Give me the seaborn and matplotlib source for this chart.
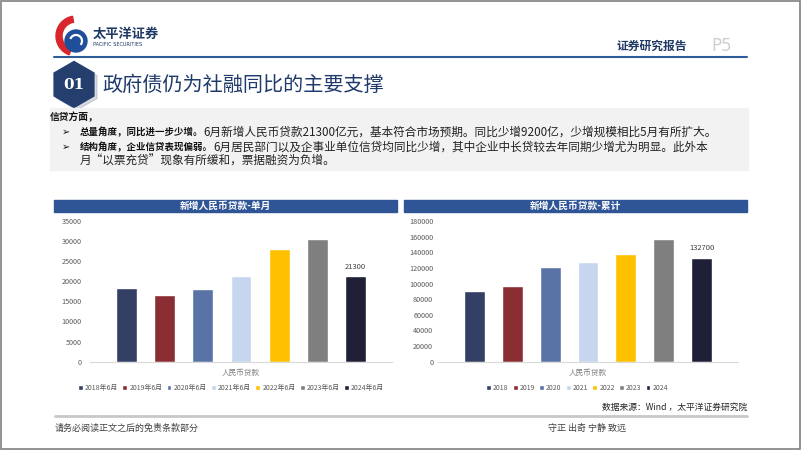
import matplotlib
matplotlib.use("Agg")
import matplotlib.pyplot as plt
from matplotlib.patches import Rectangle, RegularPolygon, Wedge, Circle, Arc
import seaborn as sns
import pandas as pd

# data
years_month = ["2018年6月", "2019年6月", "2020年6月", "2021年6月", "2022年6月", "2023年6月", "2024年6月"]
monthly = [18400, 16600, 18100, 21200, 28100, 30500, 21300]
years = ["2018", "2019", "2020", "2021", "2022", "2023", "2024"]
cumulative = [90300, 96700, 120900, 127600, 137300, 157200, 132700]
category = "人民币贷款"
palette = ["#333F64", "#8B2E33", "#5A73A6", "#C5D6EE", "#FFC000", "#7F7F7F", "#1F2038"]

sns.set_theme(style="white")
plt.rcParams["font.family"] = ["Noto Sans CJK SC", "DejaVu Sans"]

W, H = 802, 451
fig = plt.figure(figsize=(W / 100, H / 100), dpi=100)
fig.patch.set_facecolor("white")

# background axes in pixel units, y pointing down
bg = fig.add_axes([0, 0, 1, 1])
bg.set_xlim(0, W)
bg.set_ylim(H, 0)
bg.axis("off")

navy = "#1F3864"
bg.add_patch(Rectangle((1, 1), 799, 448, fill=False, ec="#808080", lw=1.2))

# logo
bg.add_patch(Wedge((76, 36), 20, 110, 260, width=6, color="#D9262C"))
bg.add_patch(Circle((76, 41), 11, color="#1F4E9A"))
bg.add_patch(Arc((76, 41), 12, 12, theta1=200, theta2=40, color="white", lw=1.6))
bg.text(93, 34, "太平洋证券", fontsize=9.5, fontweight="bold", color=navy, va="center")
bg.text(93, 44, "PACIFIC SECURITIES", fontsize=3.6, color=navy, va="center",
        family="DejaVu Sans")
bg.text(687, 46, "证券研究报告", fontsize=8.5, fontweight="bold", color=navy,
        ha="right", va="center")
bg.text(711, 46, "P5", fontsize=12, color="#D0D0D0", va="center", family="DejaVu Sans")
bg.plot([54, 747], [57, 57], color="#2E5C9A", lw=1.5)

# section title
bg.add_patch(RegularPolygon((77, 87), 6, radius=23, color="#9AA3B5", alpha=0.4))
bg.add_patch(RegularPolygon((74, 84.5), 6, radius=23, color="#243F6E"))
bg.text(74, 85, "01", fontsize=11, fontweight="bold", color="white", ha="center",
        va="center", family="DejaVu Serif")
bg.text(102, 85, "政府债仍为社融同比的主要支撑", fontsize=14.5, color="#1F3A6B", va="center")

# text box
bg.add_patch(Rectangle((50, 108), 698, 62, color="#F2F2F2"))
bg.text(50, 117, "信贷方面，", fontsize=7, fontweight="bold", color="#111111", va="center")
renderer = fig.canvas.get_renderer()


def mixed_line(y, bold, regular, bullet=True):
    if bullet:
        bg.text(62, y, "➢", fontsize=7, color="#111111", va="center", family="DejaVu Sans")
    x = 80
    if bold:
        t = bg.text(x, y, bold, fontsize=6.8, fontweight="bold", color="#111111", va="center")
        x = t.get_window_extent(renderer=renderer).x1
    bg.text(x, y, regular, fontsize=8.4, color="#222222", va="center")


mixed_line(132, "总量角度，同比进一步少增。",
           "6月新增人民币贷款21300亿元，基本符合市场预期。同比少增9200亿，少增规模相比5月有所扩大。")
mixed_line(147, "结构角度，企业信贷表现偏弱。",
           "6月居民部门以及企事业单位信贷均同比少增，其中企业中长贷较去年同期少增尤为明显。此外本")
mixed_line(161, "", "月“以票充贷”现象有所缓和，票据融资为负增。", bullet=False)

# chart title bands
band = "#2F5597"
bg.add_patch(Rectangle((54, 200), 343, 12, color=band))
bg.add_patch(Rectangle((404, 200), 343, 12, color=band))
bg.text(225.5, 206, "新增人民币贷款-单月", fontsize=7, fontweight="bold", color="white",
        ha="center", va="center")
bg.text(575.5, 206, "新增人民币贷款-累计", fontsize=7, fontweight="bold", color="white",
        ha="center", va="center")


def chart(left, right, labels, values, ymax, step, pad, legend_x):
    y0, y1 = 361.7, 221
    ax = fig.add_axes([left / W, 1 - y0 / H, (right - left) / W, (y0 - y1) / H])
    ax.set_facecolor("none")
    df = pd.DataFrame({"cat": [category] * len(labels), "year": labels, "value": values})
    sns.barplot(data=df, x="cat", y="value", hue="year", palette=palette,
                width=0.885, gap=0.45, ax=ax, saturation=1)
    ax.set_ylim(0, ymax)
    ax.set_yticks(range(0, ymax + 1, step))
    ax.set_xlabel("")
    ax.set_ylabel("")
    sns.despine(ax=ax, left=True)
    ax.spines["bottom"].set_color("#D9D9D9")
    ax.spines["bottom"].set_linewidth(0.8)
    ax.tick_params(axis="y", length=0, pad=pad, labelsize=5.2, labelcolor="#595959")
    ax.tick_params(axis="x", length=0, pad=5, labelsize=5.5, labelcolor="#7F7F7F")
    ax.bar_label(ax.containers[-1], labels=[str(values[-1])], padding=4,
                 fontsize=5.5, color="#404040")
    handles, labs = ax.get_legend_handles_labels()
    ax.legend(handles, labs, loc="center", bbox_to_anchor=(legend_x / W, 1 - 388 / H),
              bbox_transform=fig.transFigure, ncol=7, frameon=False, fontsize=5,
              handlelength=0.7, handleheight=0.7, handletextpad=0.3, columnspacing=0.6,
              labelcolor="#595959")
    return ax


chart(90, 392, years_month, monthly, 35000, 5000, 6, 231)
chart(438, 738, years, cumulative, 180000, 20000, 3.5, 577)

# source and footer
bg.text(747, 407, "数据来源：Wind ，太平洋证券研究院", fontsize=6.3, color="#262626",
        ha="right", va="center")
bg.plot([55, 747], [416, 416], color="#C8C8C8", lw=2)
bg.text(55, 428, "请务必阅读正文之后的免责条款部分", fontsize=6.5, color="#404040", va="center")
bg.text(548, 428, "守正 出奇 宁静 致远", fontsize=6.5, color="#404040", va="center")

fig.savefig("out.png", dpi=100)
